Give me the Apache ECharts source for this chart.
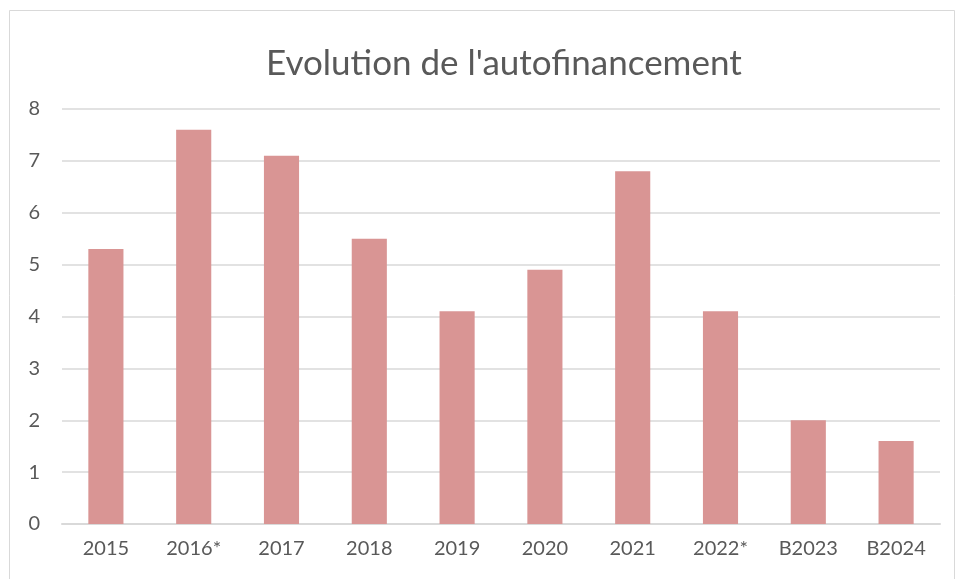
<!DOCTYPE html>
<html>
  <head>
    <meta charset="utf-8" />
    <title>Evolution de l'autofinancement</title>
    <script src="https://cdn.jsdelivr.net/npm/echarts/dist/echarts.min.js"></script>
  </head>
  <body style="margin: 0">
    <div id="main" style="width: 957px; height: 579px"></div>
    <script type="text/javascript">
      var categories = ['2015', '2016*', '2017', '2018', '2019', '2020', '2021', '2022*', 'B2023', 'B2024'];
      var values = [5.3, 7.6, 7.1, 5.5, 4.1, 4.9, 6.8, 4.1, 2.0, 1.6];

      var myChart = echarts.init(document.getElementById('main'));

      var option = {
        backgroundColor: '#ffffff',
        textStyle: { fontFamily: 'Lato' },
        title: {
          text: "Evolution de l'autofinancement",
          left: 261,
          top: 41,
          textStyle: { fontFamily: 'Lato', fontSize: 35, fontWeight: 'normal', color: '#595959' }
        },
        graphic: [
          {
            type: 'rect',
            shape: { x: 9.5, y: 10.5, width: 945, height: 600 },
            style: { fill: 'none', stroke: '#d9d9d9', lineWidth: 1 },
            silent: true
          }
        ],
        grid: { left: 62, right: 17, top: 109, bottom: 55 },
        xAxis: {
          type: 'category',
          data: categories,
          axisLine: { lineStyle: { color: '#d9d9d9', width: 2 } },
          axisTick: { show: false },
          axisLabel: { color: '#595959', fontSize: 20, margin: 15 }
        },
        yAxis: {
          type: 'value',
          min: 0,
          max: 8,
          interval: 1,
          axisLine: { show: false },
          axisTick: { show: false },
          splitLine: { lineStyle: { color: '#d9d9d9', width: 1.5 } },
          axisLabel: { color: '#595959', fontSize: 20, margin: 22 }
        },
        series: [
          {
            type: 'bar',
            data: values,
            barWidth: '40%',
            itemStyle: { color: '#d99594' }
          }
        ]
      };

      myChart.setOption(option);
    </script>
  </body>
</html>
